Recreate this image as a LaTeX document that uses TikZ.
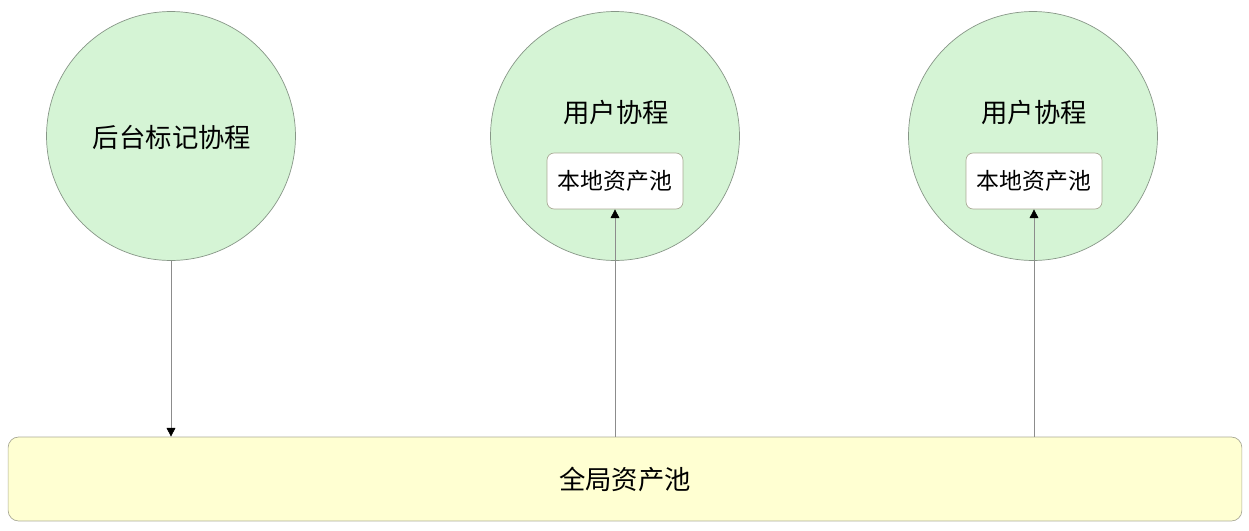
\documentclass[tikz,border=0pt]{standalone}
\usepackage{fontspec}
\newfontfamily\cjk{Noto Sans CJK SC}
\usepackage{tikz}
\usetikzlibrary{arrows.meta}
\definecolor{cofill}{RGB}{213,244,213}
\definecolor{codraw}{RGB}{135,150,135}
\definecolor{poolfill}{RGB}{255,255,210}
\definecolor{pooldraw}{RGB}{170,170,150}
\definecolor{linkgray}{RGB}{140,140,140}
\tikzset{
  coro/.style={circle, fill=cofill, draw=codraw, minimum size=4.98cm, inner sep=0pt},
  localpool/.style={rectangle, rounded corners=4pt, fill=white, draw=pooldraw, minimum width=2.72cm, minimum height=1.12cm, font=\cjk\fontsize{13}{15}\selectfont},
  link/.style={draw=linkgray, -{Triangle[black,length=5pt,width=5pt]}}
}
\begin{document}
\begin{tikzpicture}[x=0.02cm,y=-0.02cm, font=\cjk\fontsize{15}{18}\selectfont]
    \useasboundingbox (0,0) rectangle (1249,531);
    \node [coro] (mark) at (171,136) {};
    \node (marktext) at (172,137) {后台标记协程};
    \node [coro] (user1) at (615,136) {};
    \node (user1text) at (616,112) {用户协程};
    \node [localpool] (local1) at (615,181) {本地资产池};
    \node [coro] (user2) at (1033,136) {};
    \node (user2text) at (1034,112) {用户协程};
    \node [localpool] (local2) at (1034,181) {本地资产池};
    \node [rectangle, rounded corners=6pt, fill=poolfill, draw=pooldraw, minimum width=24.68cm, minimum height=1.68cm] (global) at (625,479) {全局资产池};
    \draw [link] (mark.south) -- (mark.south |- global.north);
    \draw [link] (local1.south |- global.north) -- (local1.south);
    \draw [link] (local2.south |- global.north) -- (local2.south);
\end{tikzpicture}
\end{document}
